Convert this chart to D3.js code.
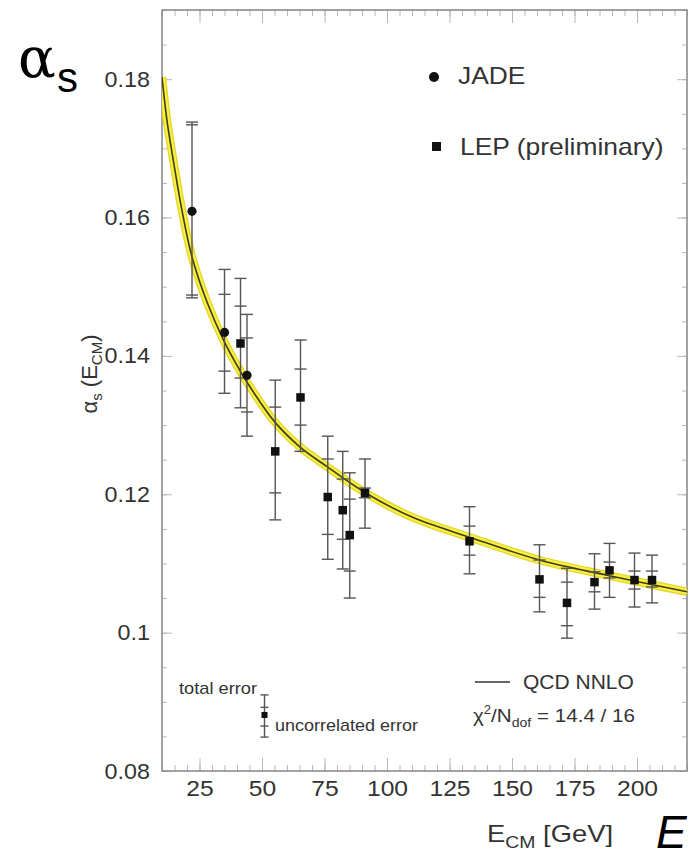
<!DOCTYPE html>
<html>
<head>
<meta charset="utf-8">
<script src="https://cdn.jsdelivr.net/npm/d3@7"></script>
<style>
  body { margin: 0; background: #fff; }
  svg { display: block; font-family: "Liberation Sans", Arial, sans-serif; }
</style>
</head>
<body>
<svg id="chart"></svg>
<script>
// JADE points (E_CM in GeV, alpha_s, total and uncorrelated error ends)
const jadeE = [22, 35, 44];
const jadeVal = [0.1609, 0.1434, 0.1372];
const jadeTotHi = [0.1738, 0.1525, 0.1460];
const jadeTotLo = [0.1484, 0.1346, 0.1284];
const jadeUncHi = [0.1734, 0.1489, 0.1426];
const jadeUncLo = [0.1488, 0.1378, 0.1319];

// LEP (preliminary) points
const lepE = [41.4, 55.3, 65.4, 76.3, 82.3, 85.1, 91.2, 133, 161, 172, 183, 189, 199, 206];
const lepVal = [0.1418, 0.1262, 0.1340, 0.1196, 0.1177, 0.1141, 0.1202, 0.1132, 0.1077, 0.1043, 0.1073, 0.1090, 0.1076, 0.1076];
const lepTotHi = [0.1512, 0.1365, 0.1423, 0.1284, 0.1262, 0.1231, 0.1251, 0.1182, 0.1127, 0.1093, 0.1114, 0.1129, 0.1115, 0.1112];
const lepTotLo = [0.1325, 0.1163, 0.1262, 0.1106, 0.1092, 0.1050, 0.1151, 0.1085, 0.1030, 0.0992, 0.1034, 0.1051, 0.1037, 0.1043];
const lepUncHi = [0.1472, 0.1326, 0.1381, 0.1251, 0.1222, 0.1193, 0.1209, 0.1154, 0.1105, 0.1073, 0.1088, 0.1102, 0.1089, 0.1089];
const lepUncLo = [0.1368, 0.1202, 0.1300, 0.1142, 0.1135, 0.1089, 0.1195, 0.1112, 0.1051, 0.1010, 0.1059, 0.1079, 0.1063, 0.1066];

// QCD NNLO fit curve
const fitE = [10, 12, 14.5, 18, 22, 28, 35, 41, 44, 55, 65, 76, 91, 110, 133, 161, 188, 220];
const fitVal = [0.1803, 0.1740, 0.1683, 0.1610, 0.1543, 0.1478, 0.1420, 0.1380, 0.1362, 0.1305, 0.1269, 0.1240, 0.1203, 0.1167, 0.1138, 0.1105, 0.1083, 0.1059];

// legend sample error bar: [E, value, totHi, totLo, uncHi, uncLo]
const sampleBar = [51, 0.0881, 0.0910, 0.0849, 0.0892, 0.0865];

const xTicks = [25, 50, 75, 100, 125, 150, 175, 200];
const yTicks = [0.08, 0.10, 0.12, 0.14, 0.16, 0.18];

const width = 699, height = 859;
const plot = { left: 162, right: 687, top: 10, bottom: 771 };

const svg = d3.select('#chart').attr('width', width).attr('height', height);

const x = d3.scaleLinear().domain([10, 220]).range([plot.left, plot.right]);
const y = d3.scaleLinear().domain([0.08, 0.19]).range([plot.bottom, plot.top]);

const stretch = (sel, k) => sel.each(function () {
  const w = this.getComputedTextLength();
  d3.select(this).attr('textLength', w * k).attr('lengthAdjust', 'spacingAndGlyphs');
});
const fitTo = (sel, w) => sel.attr('textLength', w).attr('lengthAdjust', 'spacingAndGlyphs');

const tickColor = '#b8b8b8';
const textColor = '#333';

// axes with inward ticks
const minorX = d3.range(10, 221, 5);
const minorY = d3.range(0.08, 0.1901, 0.005);

function styleAxis(g) {
  g.select('.domain').remove();
  g.selectAll('line').attr('stroke', tickColor).attr('stroke-width', 1);
  g.selectAll('text').attr('fill', textColor).style('font-size', '22px')
    .style('font-family', '"Liberation Sans", Arial, sans-serif');
}

svg.append('g').attr('transform', `translate(0,${plot.bottom})`)
  .call(d3.axisBottom(x).tickValues(minorX).tickSize(-6).tickFormat(''))
  .call(styleAxis);
const xMajor = svg.append('g').attr('transform', `translate(0,${plot.bottom})`)
  .call(d3.axisBottom(x).tickValues(xTicks).tickSize(-13).tickPadding(9).tickFormat(d3.format('d')))
  .call(styleAxis);
stretch(xMajor.selectAll('text'), 1.12);

svg.append('g').attr('transform', `translate(0,${plot.top})`)
  .call(d3.axisTop(x).tickValues(minorX).tickSize(-6).tickFormat(''))
  .call(styleAxis);
svg.append('g').attr('transform', `translate(0,${plot.top})`)
  .call(d3.axisTop(x).tickValues(xTicks).tickSize(-13).tickFormat(''))
  .call(styleAxis);

svg.append('g').attr('transform', `translate(${plot.left},0)`)
  .call(d3.axisLeft(y).tickValues(minorY).tickSize(-5).tickFormat(''))
  .call(styleAxis);
const yMajor = svg.append('g').attr('transform', `translate(${plot.left},0)`)
  .call(d3.axisLeft(y).tickValues(yTicks).tickSize(-10).tickPadding(12).tickFormat(d => String(+d.toFixed(2))))
  .call(styleAxis);
stretch(yMajor.selectAll('text'), 1.06);

svg.append('g').attr('transform', `translate(${plot.right},0)`)
  .call(d3.axisRight(y).tickValues(minorY).tickSize(-5).tickFormat(''))
  .call(styleAxis);
svg.append('g').attr('transform', `translate(${plot.right},0)`)
  .call(d3.axisRight(y).tickValues(yTicks).tickSize(-10).tickFormat(''))
  .call(styleAxis);

// frame
svg.append('rect')
  .attr('x', plot.left).attr('y', plot.top)
  .attr('width', plot.right - plot.left).attr('height', plot.bottom - plot.top)
  .attr('fill', 'none').attr('stroke', '#8c8c8c').attr('stroke-width', 1.6);

// fit curve with yellow band
svg.append('clipPath').attr('id', 'clip').append('rect')
  .attr('x', plot.left).attr('y', plot.top)
  .attr('width', plot.right - plot.left).attr('height', plot.bottom - plot.top);

const fit = fitE.map((e, i) => ({ e, v: fitVal[i] }));
const line = d3.line().x(d => x(d.e)).y(d => y(d.v)).curve(d3.curveCatmullRom.alpha(0.5));
const curveG = svg.append('g').attr('clip-path', 'url(#clip)');
curveG.append('path').datum(fit).attr('d', line)
  .attr('fill', 'none').attr('stroke', '#e4d625').attr('stroke-width', 8.5).attr('stroke-linejoin', 'round');
curveG.append('path').datum(fit).attr('d', line)
  .attr('fill', 'none').attr('stroke', '#f7ee48').attr('stroke-width', 6).attr('stroke-linejoin', 'round');
curveG.append('path').datum(fit).attr('d', line)
  .attr('fill', 'none').attr('stroke', '#3f3d08').attr('stroke-width', 1.6);

// data
const jade = jadeE.map((e, i) => ({ e, v: jadeVal[i], th: jadeTotHi[i], tl: jadeTotLo[i], uh: jadeUncHi[i], ul: jadeUncLo[i] }));
const lep = lepE.map((e, i) => ({ e, v: lepVal[i], th: lepTotHi[i], tl: lepTotLo[i], uh: lepUncHi[i], ul: lepUncLo[i] }));
const sample = [{ e: sampleBar[0], v: sampleBar[1], th: sampleBar[2], tl: sampleBar[3], uh: sampleBar[4], ul: sampleBar[5] }];

const barColor = '#555';
const capW = 6;

function errorBars(data, cap) {
  const g = svg.append('g').attr('stroke', barColor).attr('stroke-width', 1.4);
  g.selectAll('.bar').data(data).enter().append('line')
    .attr('x1', d => x(d.e)).attr('x2', d => x(d.e))
    .attr('y1', d => y(d.th)).attr('y2', d => y(d.tl));
  ['th', 'tl', 'uh', 'ul'].forEach(k => {
    g.selectAll('.cap-' + k).data(data).enter().append('line')
      .attr('x1', d => x(d.e) - cap).attr('x2', d => x(d.e) + cap)
      .attr('y1', d => y(d[k])).attr('y2', d => y(d[k]));
  });
}

errorBars(jade, capW);
errorBars(lep, capW);
errorBars(sample, 4);

svg.append('g').selectAll('circle').data(jade).enter().append('circle')
  .attr('cx', d => x(d.e)).attr('cy', d => y(d.v)).attr('r', 4.6).attr('fill', '#111');

const sq = 8.5;
svg.append('g').selectAll('rect').data(lep).enter().append('rect')
  .attr('x', d => x(d.e) - sq / 2).attr('y', d => y(d.v) - sq / 2)
  .attr('width', sq).attr('height', sq).attr('fill', '#111');

svg.append('g').selectAll('rect').data(sample).enter().append('rect')
  .attr('x', d => x(d.e) - 3).attr('y', d => y(d.v) - 3)
  .attr('width', 6).attr('height', 6).attr('fill', '#111');

// legend, top right
svg.append('circle').attr('cx', 434).attr('cy', 77).attr('r', 5).attr('fill', '#111');
stretch(svg.append('text').attr('x', 458).attr('y', 84)
  .attr('fill', textColor).style('font-size', '24px').text('JADE'), 1.1);
svg.append('rect').attr('x', 432).attr('y', 142).attr('width', 9).attr('height', 9).attr('fill', '#111');
stretch(svg.append('text').attr('x', 460).attr('y', 155)
  .attr('fill', textColor).style('font-size', '24px').text('LEP (preliminary)'), 1.1);

// legend, bottom
fitTo(svg.append('text').attr('x', 179).attr('y', 694)
  .attr('fill', textColor).style('font-size', '17px').text('total error'), 78);
fitTo(svg.append('text').attr('x', 275).attr('y', 731)
  .attr('fill', textColor).style('font-size', '17px').text('uncorrelated error'), 143);

svg.append('line').attr('x1', 475).attr('x2', 510).attr('y1', 682).attr('y2', 682)
  .attr('stroke', '#333').attr('stroke-width', 1.3);
svg.append('text').attr('x', 523).attr('y', 689)
  .attr('fill', textColor).style('font-size', '21px').text('QCD NNLO');

const chi = svg.append('text').attr('x', 473).attr('y', 722)
  .attr('fill', textColor).style('font-size', '19px');
chi.append('tspan').text('χ');
chi.append('tspan').attr('dy', -8).style('font-size', '12px').text('2');
chi.append('tspan').attr('dy', 8).text('/N');
chi.append('tspan').attr('dy', 5).style('font-size', '13px').text('dof');
chi.append('tspan').attr('dy', -5).text(' = 14.4 / 16');
fitTo(chi, 162);

// axis titles
const yTitle = svg.append('text')
  .attr('transform', 'translate(97,374) rotate(-90)')
  .attr('text-anchor', 'middle').attr('fill', textColor).style('font-size', '22px');
yTitle.append('tspan').text('α');
yTitle.append('tspan').attr('dy', 5).style('font-size', '15px').text('s');
yTitle.append('tspan').attr('dy', -5).text(' (E');
yTitle.append('tspan').attr('dy', 5).style('font-size', '15px').text('CM');
yTitle.append('tspan').attr('dy', -5).text(')');

const xTitle = svg.append('text').attr('x', 487).attr('y', 842)
  .attr('fill', textColor).style('font-size', '24px');
xTitle.append('tspan').text('E');
xTitle.append('tspan').attr('dy', 6).style('font-size', '17px').text('CM');
xTitle.append('tspan').attr('dy', -6).text(' [GeV]');
fitTo(xTitle, 126);

// large corner labels
svg.append('text').attr('x', 18).attr('y', 77)
  .style('font-family', '"DejaVu Serif", serif')
  .style('font-size', '56px').attr('fill', '#000').text('α');
svg.append('text').attr('x', 57).attr('y', 92)
  .style('font-size', '42px').attr('fill', '#000').text('s');
svg.append('text').attr('x', 656).attr('y', 848)
  .style('font-size', '46px').style('font-style', 'italic').attr('fill', '#000').text('E');
</script>
</body>
</html>
